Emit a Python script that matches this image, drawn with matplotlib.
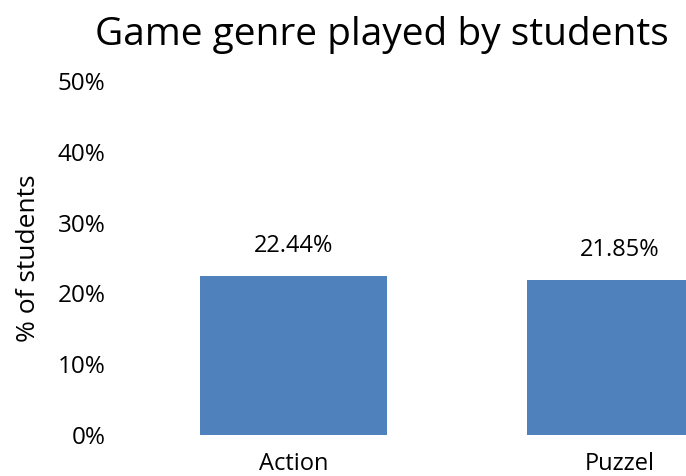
import matplotlib
matplotlib.use('Agg')
import matplotlib.pyplot as plt
from matplotlib.ticker import PercentFormatter

# Share of students per game genre
genres = ['Action', 'Puzzel']
shares = [22.44, 21.85]
y_ticks = [0, 10, 20, 30, 40, 50]

plt.rcParams['font.family'] = ['Open Sans', 'DejaVu Sans']

fig = plt.figure(figsize=(6.86, 4.76), dpi=100)
# axes deliberately run past the right edge of the figure
ax = fig.add_axes([0.190, 0.0861, 0.952, 0.744])

x = range(len(genres))
bars = ax.bar(x, shares, width=0.573, color='#4F81BD')

for rect, val in zip(bars, shares):
    ax.text(rect.get_x() + rect.get_width() / 2, val + 4.3, f'{val:.2f}%',
            ha='center', va='center', fontsize=17)

ax.set_xlim(-0.5, 1.5)
ax.set_ylim(0, 50)
ax.set_yticks(y_ticks)
ax.yaxis.set_major_formatter(PercentFormatter(decimals=0))
ax.set_xticks(list(x))
ax.set_xticklabels(genres)
ax.tick_params(axis='y', length=0, pad=18, labelsize=17.5)
ax.tick_params(axis='x', length=0, pad=12, labelsize=17)

for side in ['top', 'right', 'left', 'bottom']:
    ax.spines[side].set_visible(False)

ax.set_ylabel('% of students', fontsize=19, labelpad=12)
fig.text(0.556, 0.926, 'Game genre played by students', ha='center', va='center',
         fontsize=28)

fig.savefig('out.png', dpi=100)
